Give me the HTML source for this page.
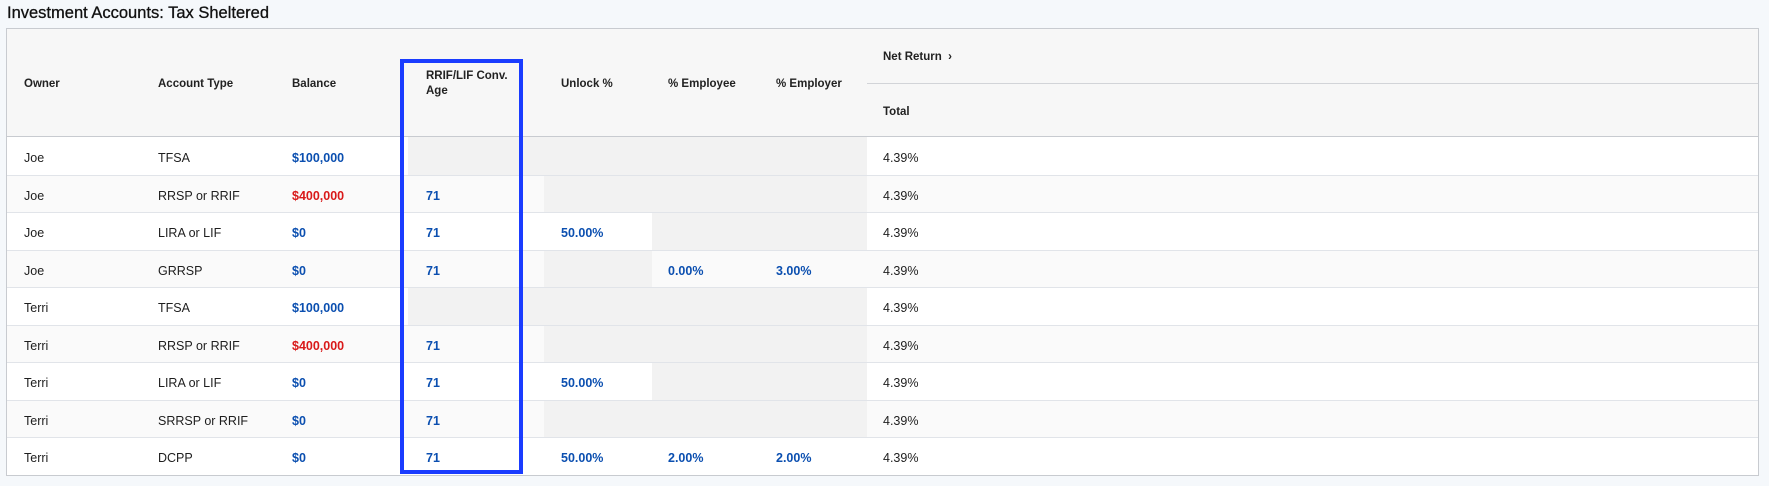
<!DOCTYPE html>
<html><head><meta charset="utf-8"><style>
*{margin:0;padding:0;box-sizing:border-box}
body{width:1769px;height:486px;background:#f5f8fb;font-family:"Liberation Sans",Arial,sans-serif;position:relative;overflow:hidden;color:#1e1e1e}
.a{position:absolute}
.t{font-size:12.5px;line-height:16px;white-space:nowrap}
.h{font-size:11.5px;font-weight:bold;line-height:15px;white-space:nowrap;color:#222}
.b{color:#0b4fb0;font-weight:bold}
.r{color:#d91a1a;font-weight:bold}
</style></head><body>
<div class="a" style="left:7px;top:4px;font-size:16.5px;color:#111;-webkit-text-stroke:0.3px #111">Investment Accounts: Tax Sheltered</div>
<div class="a" style="left:6px;top:28px;width:1753px;height:448px;border:1px solid #c8cbd0;background:#fff;"></div>
<div class="a" style="left:7px;top:29px;width:1751px;height:108px;background:#f7f7f7;border-bottom:1px solid #c8cbd0"></div>
<div class="a" style="left:867px;top:83px;width:891px;height:1px;background:#d2d4d8"></div>
<div id="rows"></div>
<div class="a h" style="left:24px;top:77px">Owner</div>
<div class="a h" style="left:158px;top:77px">Account Type</div>
<div class="a h" style="left:292px;top:77px">Balance</div>
<div class="a h" style="left:426px;top:69px">RRIF/LIF Conv.<br>Age</div>
<div class="a h" style="left:561px;top:77px">Unlock %</div>
<div class="a h" style="left:668px;top:77px">% Employee</div>
<div class="a h" style="left:776px;top:77px">% Employer</div>
<div class="a h" style="left:883px;top:50px">Net Return &nbsp;&#x203A;</div>
<div class="a h" style="left:883px;top:105px">Total</div>
<div class="a" style="left:400px;top:59px;width:123px;height:415px;border:4px solid #1a3cff"></div>
<script>
var d=[["Joe","TFSA","$100,000","b","",0,0,0,1,1,1,1],
["Joe","RRSP or RRIF","$400,000","r","71",0,0,0,0,1,1,1],
["Joe","LIRA or LIF","$0","b","71","50.00%","","",0,0,1,1],
["Joe","GRRSP","$0","b","71","","0.00%","3.00%",0,1,0,0],
["Terri","TFSA","$100,000","b","",0,0,0,1,1,1,1],
["Terri","RRSP or RRIF","$400,000","r","71",0,0,0,0,1,1,1],
["Terri","LIRA or LIF","$0","b","71","50.00%","","",0,0,1,1],
["Terri","SRRSP or RRIF","$0","b","71","","","",0,1,1,1],
["Terri","DCPP","$0","b","71","50.00%","2.00%","2.00%",0,0,0,0]];
var h="",cx=[[408,544],[544,652],[652,759],[759,867]];
d.forEach(function(r,i){var y=137+i*37.5;
h+='<div class="a" style="left:7px;top:'+y+'px;width:1751px;height:37.5px;background:'+(i%2?'#fafafa':'#fff')+';border-top:'+(i?'1px solid #e1e4e9':'0')+'"></div>';
for(var k=0;k<4;k++)if(r[8+k])h+='<div class="a" style="left:'+cx[k][0]+'px;top:'+(y+(i?1:0))+'px;width:'+(cx[k][1]-cx[k][0])+'px;height:'+(i?36.5:37.5)+'px;background:#f2f2f2"></div>';
var ty=y+13;
h+='<div class="a t" style="left:24px;top:'+ty+'px">'+r[0]+'</div><div class="a t" style="left:158px;top:'+ty+'px">'+r[1]+'</div><div class="a t '+r[3]+'" style="left:292px;top:'+ty+'px">'+r[2]+'</div>';
if(r[4])h+='<div class="a t b" style="left:426px;top:'+ty+'px">'+r[4]+'</div>';
if(r[5])h+='<div class="a t b" style="left:561px;top:'+ty+'px">'+r[5]+'</div>';
if(r[6])h+='<div class="a t b" style="left:668px;top:'+ty+'px">'+r[6]+'</div>';
if(r[7])h+='<div class="a t b" style="left:776px;top:'+ty+'px">'+r[7]+'</div>';
h+='<div class="a t" style="left:883px;top:'+ty+'px">4.39%</div>';});
document.getElementById("rows").innerHTML=h;
</script>
</body></html>
